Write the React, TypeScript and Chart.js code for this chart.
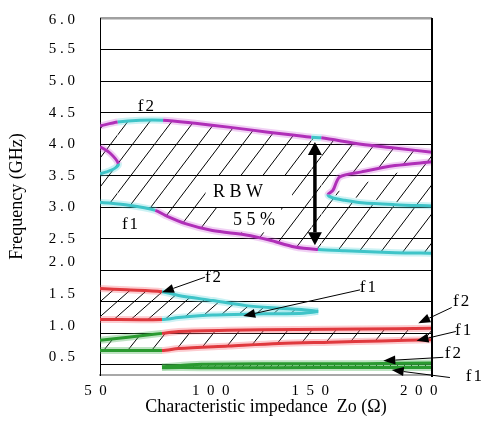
import React, { useEffect, useRef } from 'react';
import { Chart, registerables } from 'chart.js';

Chart.register(...registerables);

const SERIF = '"Liberation Serif", "Times New Roman", serif';

// ---- axis ticks ----
const yGridValues = [0.5, 1.0, 1.5, 2.0, 2.5, 3.0, 3.5, 4.0, 4.5, 5.0, 5.5, 6.0];
const yLabelValues = [0.62, 1.12, 1.62, 2.13, 2.5, 3.0, 3.5, 4.0, 4.5, 5.0, 5.5, 5.97];
const yLabelText = ['0 . 5', '1 . 0', '1 . 5', '2 . 0', '2 . 5', '3 . 0', '3 . 5', '4 . 0', '4 . 5', '5 . 0', '5 . 5', '6 . 0'];
const xLabelValues = [48, 100, 145, 194];
const xLabelText = ['5\u20020', '1\u20020\u20020', '1\u20025\u20020', '2\u20020\u20020'];

// ---- curves: Zo (ohm) and frequency (GHz); seg = colour of each segment ----
const bayZ = [200, 183.3, 168.2, 158.3, 155.3, 153, 155, 160.6, 168.2, 183.3, 200];
const bayF = [3.72, 3.66, 3.56, 3.48, 3.27, 3.2, 3.15, 3.11, 3.07, 3.04, 3.02];
const baySeg = 'MMMMMCCCCC';

const upperF2Z = [50, 58, 68, 78.5, 93, 108, 126, 138, 145.5, 150, 168, 183, 200];
const upperF2F = [4.29, 4.35, 4.38, 4.38, 4.33, 4.27, 4.19, 4.14, 4.11, 4.1, 4.0, 3.94, 3.87];
const upperF2Seg = 'MCCMMMMMCMMM';

const upperF1Z = [50, 63, 75, 79.5, 88.6, 100.8, 116, 126.5, 138, 148.5, 160.6, 183.3, 200];
const upperF1F = [3.08, 3.03, 2.95, 2.87, 2.74, 2.63, 2.56, 2.48, 2.37, 2.33, 2.31, 2.28, 2.27];
const upperF1Seg = 'CCMMMMMMMCCC';

const leftCZ = [50, 54.5, 58.3, 56.8, 53, 50];
const leftCF = [3.96, 3.86, 3.69, 3.62, 3.56, 3.53];
const leftCSeg = 'MMCCC';

const loopF2Z = [50, 62, 78, 85.5, 101, 116, 131, 141, 148.6];
const loopF2F = [1.71, 1.69, 1.66, 1.6, 1.52, 1.44, 1.4, 1.38, 1.35];
const loopF2Seg = 'RRCCCCCC';

const loopF1Z = [50, 78, 85.5, 101, 124, 142, 148.6];
const loopF1F = [1.22, 1.22, 1.25, 1.29, 1.31, 1.32, 1.35];
const loopF1Seg = 'RCCCCC';

const midF2Z = [50, 62.7, 78, 85.5, 108, 138.6, 169, 200];
const midF2F = [0.89, 0.94, 1.0, 1.03, 1.05, 1.06, 1.07, 1.08];
const midF2Seg = 'GGRRRRR';

const midF1Z = [50, 78, 85.5, 108, 131, 154, 177, 200];
const midF1F = [0.73, 0.73, 0.76, 0.8, 0.84, 0.86, 0.88, 0.9];
const midF1Seg = 'GRRRRRR';

const lowF2Z = [78, 96, 130, 170, 200];
const lowF2F = [0.47, 0.51, 0.52, 0.52, 0.53];
const lowF2Seg = 'GGGG';

const lowF1Z = [78, 96, 130, 170, 200];
const lowF1F = [0.46, 0.455, 0.455, 0.46, 0.46];
const lowF1Seg = 'GGGG';

// ---- annotations ----
const textNotes = [
  { t: 'f2', z: 71.2, f: 4.6 },
  { t: 'f1', z: 64.0, f: 2.73 },
  { t: 'R B W', z: 112.3, f: 3.24 },
  { t: '5 5 %', z: 119.6, f: 2.8 },
  { t: 'f2', z: 101.5, f: 1.89 },
  { t: 'f1', z: 171.5, f: 1.72 },
  { t: 'f2', z: 213.6, f: 1.5 },
  { t: 'f1', z: 214.5, f: 1.05 },
  { t: 'f2', z: 209.9, f: 0.68 },
  { t: 'f1', z: 219.4, f: 0.32 },
];
const arrowNotes = [
  { z0: 97.4, f0: 1.89, z1: 78.0, f1: 1.65 },
  { z0: 167.5, f0: 1.69, z1: 114.7, f1: 1.275 },
  { z0: 208.9, f0: 1.41, z1: 193.8, f1: 1.16 },
  { z0: 210.8, f0: 1.03, z1: 193.0, f1: 0.883 },
  { z0: 205.1, f0: 0.62, z1: 178.0, f1: 0.566 },
  { z0: 208.1, f0: 0.30, z1: 181.8, f1: 0.419 },
];
const rbwArrow = { z: 147.1, fTop: 4.036, fBottom: 2.397 };
const whiteBoxes = [
  { z0: 97.7, z1: 136.8, f0: 3.0, f1: 3.5 },
  { z0: 104.5, z1: 131.8, f0: 2.6, f1: 3.0 },
];

const COLORS: Record<string, string> = { M: '#b02fb8', C: '#3fc4c8', R: '#e0393e', G: '#2a9a30' };
const HALO: Record<string, string> = {
  M: 'rgba(205,90,215,0.28)',
  C: 'rgba(95,215,222,0.32)',
  R: 'rgba(245,110,120,0.35)',
  G: 'rgba(70,175,80,0.35)',
};

function makeHatch(ctx: CanvasRenderingContext2D, w: number, h: number, lw: number) {
  const c = document.createElement('canvas');
  c.width = w;
  c.height = h;
  const g = c.getContext('2d')!;
  g.strokeStyle = '#000';
  g.lineWidth = lw;
  for (const dx of [-w, 0, w]) {
    g.beginPath();
    g.moveTo(dx, h);
    g.lineTo(dx + w, 0);
    g.stroke();
  }
  return ctx.createPattern(c, 'repeat') as CanvasPattern;
}

function drawArrowHead(ctx: CanvasRenderingContext2D, x0: number, y0: number, x1: number, y1: number, len: number, half: number) {
  const a = Math.atan2(y1 - y0, x1 - x0);
  const bx = x1 - len * Math.cos(a);
  const by = y1 - len * Math.sin(a);
  ctx.beginPath();
  ctx.moveTo(x1, y1);
  ctx.lineTo(bx + half * Math.sin(a), by - half * Math.cos(a));
  ctx.lineTo(bx - half * Math.sin(a), by + half * Math.cos(a));
  ctx.closePath();
  ctx.fill();
  return [bx, by];
}

const notesPlugin = {
  id: 'notes',
  beforeDraw(chart: any) {
    const { ctx, scales } = chart;
    const x = scales.x;
    const y = scales.y;
    ctx.save();
    ctx.fillStyle = '#fff';
    for (const b of whiteBoxes) {
      const x0 = x.getPixelForValue(b.z0);
      const x1 = x.getPixelForValue(b.z1);
      const y0 = y.getPixelForValue(b.f1);
      const y1 = y.getPixelForValue(b.f0);
      ctx.fillRect(x0, y0, x1 - x0, y1 - y0);
    }
    ctx.restore();
  },
  afterDraw(chart: any) {
    const { ctx, scales, chartArea } = chart;
    const x = scales.x;
    const y = scales.y;
    ctx.save();
    // right frame
    ctx.strokeStyle = '#000';
    ctx.lineWidth = 2;
    ctx.beginPath();
    ctx.moveTo(chartArea.right, chartArea.top);
    ctx.lineTo(chartArea.right, chartArea.bottom + 2);
    ctx.stroke();

    // texts
    ctx.fillStyle = '#000';
    ctx.textAlign = 'center';
    ctx.textBaseline = 'middle';
    for (const n of textNotes) {
      const isF = n.t.startsWith('f');
      ctx.font = `${isF ? 17 : 18}px ${SERIF}`;
      (ctx as any).letterSpacing = isF ? '2px' : '0px';
      ctx.fillText(n.t, x.getPixelForValue(n.z), y.getPixelForValue(n.f));
    }
    (ctx as any).letterSpacing = '0px';

    // thin arrows
    ctx.lineWidth = 1;
    for (const a of arrowNotes) {
      const x0 = x.getPixelForValue(a.z0);
      const y0 = y.getPixelForValue(a.f0);
      const x1 = x.getPixelForValue(a.z1);
      const y1 = y.getPixelForValue(a.f1);
      const [bx, by] = drawArrowHead(ctx, x0, y0, x1, y1, 12, 4.5);
      ctx.beginPath();
      ctx.moveTo(x0, y0);
      ctx.lineTo(bx, by);
      ctx.stroke();
    }

    // RBW double arrow
    const ax = x.getPixelForValue(rbwArrow.z);
    const yt = y.getPixelForValue(rbwArrow.fTop);
    const yb = y.getPixelForValue(rbwArrow.fBottom);
    const [, t2] = drawArrowHead(ctx, ax, yb, ax, yt, 13, 7);
    const [, b2] = drawArrowHead(ctx, ax, yt, ax, yb, 13, 7);
    ctx.lineWidth = 3.5;
    ctx.beginPath();
    ctx.moveTo(ax, t2);
    ctx.lineTo(ax, b2);
    ctx.stroke();
    ctx.restore();
  },
};

type Curve = { z: number[]; f: number[]; seg: string };
const curves: Curve[] = [
  { z: bayZ, f: bayF, seg: baySeg },
  { z: upperF2Z, f: upperF2F, seg: upperF2Seg },
  { z: upperF1Z, f: upperF1F, seg: upperF1Seg },
  { z: leftCZ, f: leftCF, seg: leftCSeg },
  { z: loopF2Z, f: loopF2F, seg: loopF2Seg },
  { z: loopF1Z, f: loopF1F, seg: loopF1Seg },
  { z: midF2Z, f: midF2F, seg: midF2Seg },
  { z: midF1Z, f: midF1F, seg: midF1Seg },
  { z: lowF2Z, f: lowF2F, seg: lowF2Seg },
  { z: lowF1Z, f: lowF1F, seg: lowF1Seg },
];

export default function App() {
  const ref = useRef<HTMLCanvasElement | null>(null);
  useEffect(() => {
    const canvas = ref.current;
    if (!canvas) return;
    const ctx = canvas.getContext('2d')!;
    const hatchUpper = makeHatch(ctx, 22, 29, 1);
    const hatchLoop = makeHatch(ctx, 17, 15, 1);
    const hatchMid = makeHatch(ctx, 24, 30, 1);
    const hatchLow = makeHatch(ctx, 7, 7, 1);

    const fills: Record<number, { target: any; bg: any }> = {
      0: { target: 'shape', bg: '#ffffff' },
      1: { target: 2, bg: hatchUpper },
      4: { target: 5, bg: hatchLoop },
      6: { target: 7, bg: hatchMid },
      8: { target: 9, bg: hatchLow },
    };

    const core = curves.map((c, i) => ({
      data: c.z.map((z, k) => ({ x: z, y: c.f[k] })),
      borderColor: COLORS[c.seg[0]],
      borderWidth: 3,
      pointRadius: 0,
      tension: 0.3,
      fill: fills[i] ? fills[i].target : false,
      backgroundColor: fills[i] ? fills[i].bg : 'rgba(0,0,0,0)',
      segment: { borderColor: (s: any) => COLORS[c.seg[s.p0DataIndex]] },
      xAxisID: 'x',
      yAxisID: 'y',
    }));
    const halos = curves.map((c) => ({
      data: c.z.map((z, k) => ({ x: z, y: c.f[k] })),
      borderColor: HALO[c.seg[0]],
      borderWidth: 7,
      pointRadius: 0,
      tension: 0.3,
      fill: false,
      segment: { borderColor: (s: any) => HALO[c.seg[s.p0DataIndex]] },
      xAxisID: 'x',
      yAxisID: 'y',
    }));

    const chart = new Chart(canvas, {
      type: 'line',
      data: { datasets: [...core, ...halos] as any },
      options: {
        responsive: false,
        animation: false,
        devicePixelRatio: 1,
        layout: { padding: { left: 0, right: 53, top: 18, bottom: 0 } },
        plugins: {
          legend: { display: false },
          tooltip: { enabled: false },
          filler: { drawTime: 'beforeDraw' } as any,
        },
        scales: {
          x: {
            type: 'linear',
            min: 50,
            max: 200,
            afterBuildTicks: (s: any) => {
              s.ticks = xLabelValues.map((v) => ({ value: v }));
            },
            afterFit: (s: any) => {
              s.height = 46;
              s.paddingLeft = 0;
              s.paddingRight = 0;
            },
            grid: { display: false, drawTicks: false },
            border: { color: '#a8a8a8', width: 2 },
            ticks: {
              autoSkip: false,
              maxRotation: 0,
              padding: 7,
              color: '#000',
              font: { family: SERIF, size: 15 },
              callback: (_v: any, i: number) => xLabelText[i],
            },
            title: {
              display: true,
              text: 'Characteristic impedance  Zo (\u03A9)',
              color: '#000',
              font: { family: SERIF, size: 18 },
              padding: { top: 0, bottom: 3 },
            },
          },
          y: {
            type: 'linear',
            position: 'left',
            min: 0.34,
            max: 6.0,
            afterBuildTicks: (s: any) => {
              s.ticks = yLabelValues.map((v) => ({ value: v }));
            },
            afterFit: (s: any) => {
              s.width = 100;
              s.paddingTop = 0;
              s.paddingBottom = 0;
            },
            grid: { display: false, drawTicks: false },
            border: { color: '#000', width: 1 },
            ticks: {
              autoSkip: false,
              padding: 25,
              color: '#000',
              font: { family: SERIF, size: 15 },
              callback: (_v: any, i: number) => yLabelText[i],
            },
            title: {
              display: true,
              text: 'Frequency (GHz)',
              color: '#000',
              font: { family: SERIF, size: 18 },
              padding: { top: 6, bottom: 0 },
            },
          },
          yGrid: {
            type: 'linear',
            position: 'left',
            min: 0.34,
            max: 6.0,
            afterBuildTicks: (s: any) => {
              s.ticks = yGridValues.map((v) => ({ value: v }));
            },
            afterFit: (s: any) => {
              s.width = 0;
              s.paddingTop = 0;
              s.paddingBottom = 0;
            },
            grid: {
              drawTicks: false,
              color: (c: any) => (c.tick && c.tick.value >= 5.99 ? '#a0a0a0' : '#000'),
              lineWidth: (c: any) => (c.tick && c.tick.value >= 5.99 ? 2.5 : 1),
            },
            border: { display: false },
            ticks: { display: false },
          },
        },
      },
      plugins: [notesPlugin],
    } as any);
    return () => chart.destroy();
  }, []);

  return (
    <div style={{ position: 'absolute', left: 0, top: 0, width: 485, height: 421, background: '#fff' }}>
      <canvas ref={ref} width={485} height={421} style={{ display: 'block' }} />
    </div>
  );
}
